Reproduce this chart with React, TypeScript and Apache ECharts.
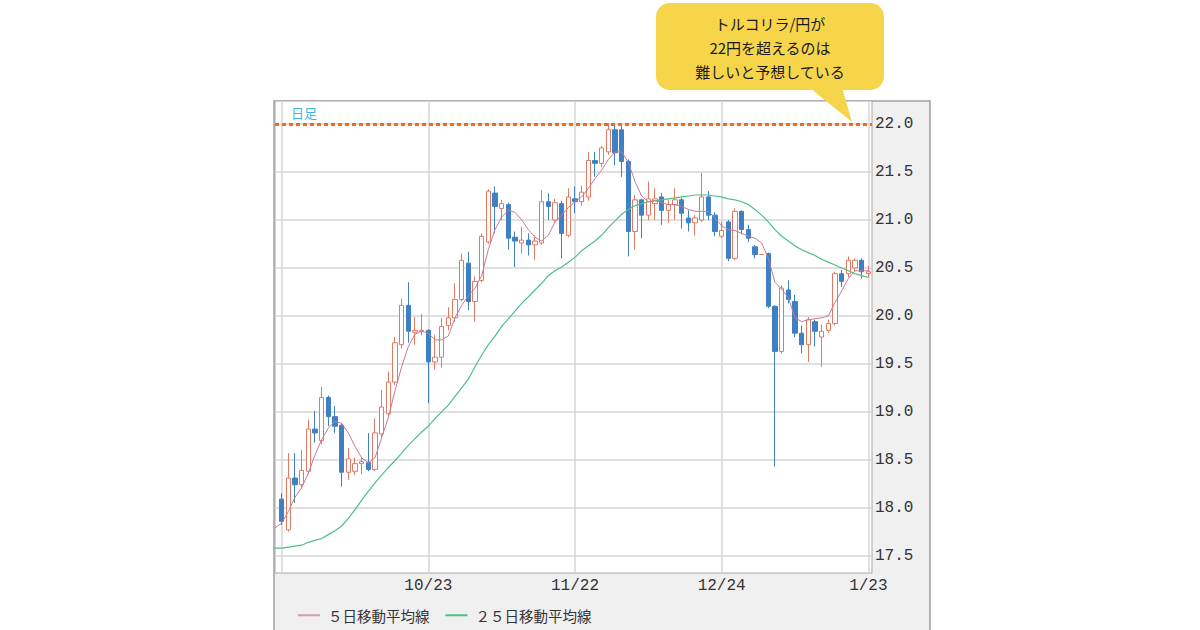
import React, { useEffect, useRef } from "react";
import * as echarts from "echarts";

// Trading days (first entry only carries moving-average values)
const dates = [
  "9/20", "9/21", "9/24", "9/25", "9/26", "9/27", "9/28",
  "10/1", "10/2", "10/3", "10/4", "10/5", "10/8", "10/9", "10/10", "10/11", "10/12",
  "10/15", "10/16", "10/17", "10/18", "10/19", "10/22", "10/23", "10/24", "10/25", "10/26",
  "10/29", "10/30", "10/31", "11/1", "11/2", "11/5", "11/6", "11/7", "11/8", "11/9",
  "11/12", "11/13", "11/14", "11/15", "11/16", "11/19", "11/20", "11/21", "11/22", "11/23",
  "11/26", "11/27", "11/28", "11/29", "11/30", "12/3", "12/4", "12/5", "12/6", "12/7",
  "12/10", "12/11", "12/12", "12/13", "12/14", "12/17", "12/18", "12/19", "12/20", "12/21",
  "12/24", "12/25", "12/26", "12/27", "12/28", "12/31", "1/1", "1/2", "1/3", "1/4",
  "1/7", "1/8", "1/9", "1/10", "1/11", "1/14", "1/15", "1/16", "1/17", "1/18",
  "1/21", "1/22", "1/23",
];

// Candles from 9/21 to 1/23
const opens = [
  18.09, 17.77, 18.31, 18.24, 18.38, 18.82, 18.70, 19.15, 18.95, 18.86,
  18.37, 18.38, 18.46, 18.47, 18.40, 18.77, 18.98, 19.31, 19.70, 20.11,
  19.83, 19.84, 19.85, 19.52, 19.57, 19.90, 19.98, 20.17, 20.55, 20.15,
  20.37, 20.77, 21.28, 21.12, 21.16, 20.82, 20.76, 20.79, 20.74, 20.76,
  21.19, 21.00, 21.17, 20.84, 21.22, 21.19, 21.24, 21.62, 21.59, 21.71,
  21.94, 21.94, 21.61, 20.88, 21.21, 21.05, 21.17, 21.24, 21.10, 21.16,
  21.21, 21.02, 20.97, 21.00, 21.24, 21.05, 20.83, 20.98, 20.60, 21.09,
  20.90, 20.72, 20.64, 20.65, 20.10, 19.63, 20.27, 20.15, 19.82, 19.70,
  19.94, 19.78, 19.85, 19.92, 20.44, 20.44, 20.50, 20.58, 20.44,
];
const closes = [
  17.86, 18.31, 18.24, 18.39, 18.82, 18.78, 19.15, 18.95, 18.85, 18.37,
  18.51, 18.46, 18.48, 18.40, 18.78, 19.05, 19.31, 19.72, 20.11, 19.84,
  19.85, 19.85, 19.52, 19.57, 19.89, 19.98, 20.17, 20.58, 20.15, 20.36,
  20.83, 21.30, 21.14, 21.17, 20.81, 20.78, 20.79, 20.74, 20.78, 21.19,
  21.14, 21.18, 20.86, 21.24, 21.19, 21.29, 21.62, 21.59, 21.75, 21.94,
  21.70, 21.61, 20.88, 21.21, 21.05, 21.22, 21.22, 21.10, 21.16, 21.21,
  21.07, 20.97, 21.02, 21.24, 21.05, 20.88, 20.89, 20.60, 21.09, 20.90,
  20.81, 20.64, 20.64, 20.10, 19.63, 20.29, 20.17, 19.82, 19.70, 19.96,
  19.84, 19.84, 19.92, 20.44, 20.36, 20.58, 20.58, 20.46, 20.46,
];
const lows = [
  17.82, 17.75, 18.05, 18.21, 18.35, 18.68, 18.66, 18.85, 18.78, 18.22,
  18.29, 18.34, 18.35, 18.38, 18.38, 18.74, 18.95, 19.28, 19.66, 19.72,
  19.70, 19.80, 19.09, 19.44, 19.46, 19.85, 19.94, 20.15, 20.06, 19.94,
  20.35, 20.75, 20.86, 21.00, 20.69, 20.51, 20.65, 20.63, 20.58, 20.74,
  21.00, 20.97, 20.60, 20.82, 21.07, 21.15, 21.20, 21.45, 21.55, 21.68,
  21.57, 21.45, 20.62, 20.69, 20.81, 21.00, 21.00, 20.95, 20.97, 21.00,
  20.91, 20.88, 20.84, 20.98, 21.00, 20.83, 20.81, 20.57, 20.58, 20.85,
  20.77, 20.60, 20.64, 20.08, 18.43, 19.61, 20.13, 19.78, 19.61, 19.52,
  19.68, 19.47, 19.82, 19.90, 20.30, 20.40, 20.46, 20.39, 20.40,
];
const highs = [
  18.15, 18.57, 18.57, 18.60, 18.92, 19.01, 19.26, 19.17, 19.06, 18.88,
  18.62, 18.52, 18.53, 18.78, 18.93, 19.23, 19.42, 19.78, 20.18, 20.35,
  19.99, 20.02, 19.86, 19.80, 19.98, 20.09, 20.34, 20.65, 20.67, 20.41,
  20.86, 21.32, 21.35, 21.21, 21.18, 20.88, 20.93, 20.86, 20.84, 21.31,
  21.28, 21.22, 21.20, 21.33, 21.35, 21.36, 21.71, 21.71, 21.77, 22.01,
  21.99, 22.01, 21.63, 21.26, 21.22, 21.40, 21.33, 21.28, 21.21, 21.33,
  21.23, 21.10, 21.05, 21.49, 21.30, 21.08, 20.98, 21.00, 21.12, 21.10,
  20.95, 20.74, 20.64, 20.66, 20.11, 20.32, 20.37, 20.22, 19.90, 19.99,
  19.96, 19.91, 19.96, 20.46, 20.48, 20.62, 20.60, 20.60, 20.52,
];

// Moving averages, one value per entry of `dates`
const ma5 = [
  17.79, 17.84, 17.96, 18.11, 18.21, 18.36, 18.55, 18.71, 18.83, 18.90,
  18.88, 18.78, 18.64, 18.52, 18.47, 18.52, 18.73, 18.94, 19.22, 19.47,
  19.68, 19.81, 19.84, 19.82, 19.75, 19.75, 19.79, 19.98, 20.11, 20.21,
  20.29, 20.42, 20.69, 20.90, 21.03, 21.10, 21.08, 21.00, 20.90, 20.82,
  20.78, 20.84, 20.98, 21.05, 21.13, 21.19, 21.24, 21.33, 21.43, 21.52,
  21.63, 21.71, 21.71, 21.60, 21.40, 21.25, 21.19, 21.20, 21.18, 21.16,
  21.16, 21.14, 21.11, 21.09, 21.09, 21.09, 21.02, 20.94, 20.90, 20.89,
  20.86, 20.83, 20.81, 20.76, 20.60, 20.35, 20.28, 20.19, 19.98, 19.94,
  19.96, 19.97, 19.98, 20.00, 20.14, 20.26, 20.39, 20.47, 20.47, 20.47,
];
const ma25 = [
  17.58, 17.58, 17.59, 17.60, 17.61, 17.64, 17.66, 17.68, 17.72, 17.76,
  17.81, 17.89, 17.98, 18.08, 18.17, 18.26, 18.34, 18.42, 18.49, 18.57,
  18.65, 18.72, 18.79, 18.85, 18.93, 19.00, 19.07, 19.16, 19.25, 19.34,
  19.47, 19.59, 19.70, 19.79, 19.89, 19.97, 20.05, 20.13, 20.20, 20.27,
  20.34, 20.42, 20.47, 20.51, 20.56, 20.61, 20.68, 20.73, 20.78, 20.84,
  20.92, 20.99, 21.06, 21.11, 21.15, 21.17, 21.19, 21.20, 21.21, 21.22,
  21.23, 21.24, 21.25, 21.26, 21.26, 21.26, 21.25, 21.24, 21.22, 21.21,
  21.19, 21.16, 21.11, 21.05, 20.98, 20.90, 20.83, 20.78, 20.73, 20.69,
  20.66, 20.63, 20.59, 20.56, 20.53, 20.50, 20.47, 20.44, 20.42, 20.40,
];

const xTickLabels = ["10/23", "11/22", "12/24", "1/23"];
const xGridDates = ["9/21", "10/23", "11/22", "12/24", "1/23"];
const yTicks = [17.5, 18.0, 18.5, 19.0, 19.5, 20.0, 20.5, 21.0, 21.5, 22.0];
const resistanceLevel = 22.0;
const periodLabel = "日足";
const ma5Name = "５日移動平均線";
const ma25Name = "２５日移動平均線";
const calloutLines = ["トルコリラ/円が", "22円を超えるのは", "難しいと予想している"];

const CJK = "'Noto Sans CJK JP', 'Noto Sans', sans-serif";
const MONO = "'Liberation Mono', 'DejaVu Sans Mono', monospace";

export default function App() {
  const ref = useRef<HTMLDivElement>(null);

  useEffect(() => {
    if (!ref.current) return;
    const chart = echarts.init(ref.current, null, { renderer: "svg" });

    const candleData = opens.map((o, i) => [i + 1, o, closes[i], lows[i], highs[i]]);
    const ma5Data = ma5.map((v, k) => [k, v]);
    const ma25Data = ma25.map((v, k) => [k, v]);
    const xLabelIdx = xTickLabels.map((d) => dates.indexOf(d));
    const xGridIdx = xGridDates.map((d) => dates.indexOf(d));

    chart.setOption({
      animation: false,
      backgroundColor: "#ffffff",
      textStyle: { fontFamily: CJK },
      grid: {
        left: 275,
        top: 101,
        width: 597,
        height: 472,
        show: true,
        backgroundColor: "#ffffff",
        borderColor: "#a8a8a8",
        borderWidth: 1,
        containLabel: false,
      },
      legend: {
        data: [ma5Name, ma25Name],
        left: 293,
        top: 603,
        icon: "rect",
        itemWidth: 22,
        itemHeight: 2,
        itemGap: 16,
        textStyle: {
          fontSize: 14.5,
          color: "#333333",
          fontFamily: CJK,
          padding: [0, 0, 0, 3],
        },
      },
      xAxis: {
        type: "value",
        min: 0,
        max: 89.55,
        axisLine: { show: false },
        axisTick: { show: false, customValues: xGridIdx },
        axisLabel: {
          customValues: xLabelIdx,
          formatter: (v: number) => dates[Math.round(v)],
          fontFamily: MONO,
          fontSize: 16,
          color: "#333333",
          margin: 5,
        },
        splitLine: { show: true, lineStyle: { color: "#d6d6d6", width: 1.5 } },
      },
      yAxis: {
        type: "value",
        position: "right",
        min: 17.32,
        max: 22.24,
        scale: true,
        axisLine: { show: false },
        axisTick: { show: false, customValues: yTicks },
        axisLabel: {
          customValues: yTicks,
          formatter: (v: number) => v.toFixed(1),
          fontFamily: MONO,
          fontSize: 16,
          color: "#333333",
          margin: 3,
        },
        splitLine: { show: true, lineStyle: { color: "#d6d6d6", width: 1.5 } },
      },
      series: [
        {
          type: "candlestick",
          name: "candles",
          data: candleData,
          barWidth: 5,
          itemStyle: {
            color: "#ffffff",
            color0: "#3f80c4",
            borderColor: "#e07a62",
            borderColor0: "#3f80c4",
            borderWidth: 1,
          },
          z: 3,
        },
        {
          type: "line",
          name: ma25Name,
          data: ma25Data,
          symbol: "none",
          lineStyle: { color: "#4fbf86", width: 1.2 },
          itemStyle: { color: "#4fbf86" },
          z: 4,
          markLine: {
            silent: true,
            symbol: ["none", "none"],
            label: { show: false },
            lineStyle: { color: "#f26a1b", type: [4, 3], width: 3.2 },
            data: [{ yAxis: resistanceLevel }],
          },
        },
        {
          type: "line",
          name: ma5Name,
          data: ma5Data,
          symbol: "none",
          lineStyle: { color: "#c97898", width: 1 },
          itemStyle: { color: "#d69bb2" },
          z: 5,
        },
      ],
      graphic: [
        {
          type: "rect",
          z: -5,
          silent: true,
          shape: { x: 274, y: 101, width: 656, height: 540 },
          style: { fill: "#f0f0f0", stroke: "#a0a0a0", lineWidth: 1.5 },
        },
        {
          type: "text",
          z: 10,
          x: 291,
          y: 106,
          style: {
            text: periodLabel,
            fill: "#3fb6e6",
            fontSize: 13,
            fontFamily: CJK,
          },
        },
        {
          type: "rect",
          z: 20,
          shape: { x: 656, y: 3, width: 228, height: 87, r: 14 },
          style: { fill: "#f6d54b" },
        },
        {
          type: "polygon",
          z: 20,
          shape: { points: [[805, 84], [841, 84], [852, 122]] },
          style: { fill: "#f6d54b" },
        },
        {
          type: "text",
          z: 21,
          x: 770,
          y: 47,
          style: {
            text: calloutLines.join("\n"),
            fill: "#1a1a1a",
            fontSize: 15,
            lineHeight: 24,
            fontFamily: CJK,
            align: "center",
            verticalAlign: "middle",
            textAlign: "center",
            textVerticalAlign: "middle",
          },
        },
      ],
    });

    return () => chart.dispose();
  }, []);

  return (
    <div
      ref={ref}
      style={{ position: "fixed", left: 0, top: 0, width: 1200, height: 630, background: "#ffffff" }}
    />
  );
}
